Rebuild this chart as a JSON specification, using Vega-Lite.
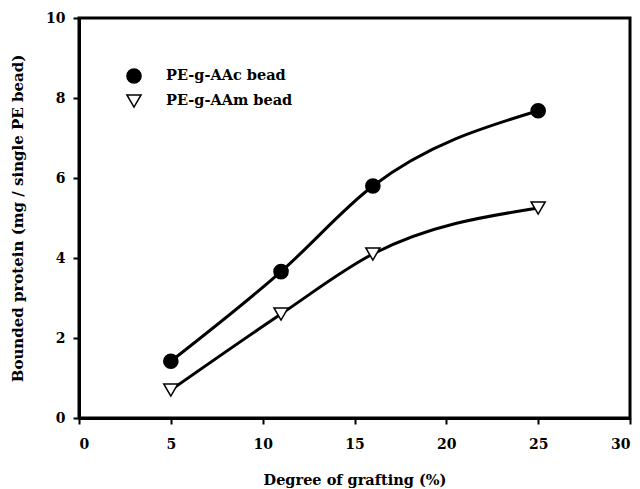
{
  "$schema": "https://vega.github.io/schema/vega-lite/v6.json",
  "width": 551,
  "height": 400,
  "autosize": "none",
  "padding": {"left": 79, "top": 18, "right": 10, "bottom": 71},
  "background": "white",
  "config": {
    "font": "DejaVu Serif",
    "view": {"stroke": "black", "strokeWidth": 3},
    "axis": {
      "labelFont": "DejaVu Serif", "labelFontWeight": "bold", "labelFontSize": 14, "labelColor": "black",
      "titleFont": "DejaVu Serif", "titleFontWeight": "bold", "titleFontSize": 14.5, "titleColor": "black",
      "domainColor": "black", "domainWidth": 3, "tickColor": "black", "tickWidth": 2, "tickSize": 6,
      "grid": false
    }
  },
  "data": {"values": [
    {"x": 5, "y": 1.42, "s": "PE-g-AAc bead"},
    {"x": 11, "y": 3.66, "s": "PE-g-AAc bead"},
    {"x": 16, "y": 5.8, "s": "PE-g-AAc bead"},
    {"x": 25, "y": 7.68, "s": "PE-g-AAc bead"},
    {"x": 5, "y": 0.7, "s": "PE-g-AAm bead"},
    {"x": 11, "y": 2.6, "s": "PE-g-AAm bead"},
    {"x": 16, "y": 4.1, "s": "PE-g-AAm bead"},
    {"x": 25, "y": 5.25, "s": "PE-g-AAm bead"}
  ]},
  "encoding": {
    "x": {"field": "x", "type": "quantitative", "scale": {"domain": [0, 30], "nice": false},
          "axis": {"values": [0, 5, 10, 15, 20, 25, 30], "title": "Degree of grafting (%)", "labelPadding": 13, "titlePadding": 22}},
    "y": {"field": "y", "type": "quantitative", "scale": {"domain": [0, 10], "nice": false},
          "axis": {"values": [0, 2, 4, 6, 8, 10], "title": "Bounded protein (mg / single PE bead)", "titleFontSize": 15, "labelPadding": 8, "titlePadding": 20}}
  },
  "layer": [
    {"mark": {"type": "line", "interpolate": "monotone", "color": "black", "strokeWidth": 3},
     "encoding": {"detail": {"field": "s"}}},
    {"mark": {"type": "point", "stroke": "black", "strokeWidth": 1.5, "opacity": 1, "size": 200},
     "encoding": {
       "shape": {"field": "s", "type": "nominal", "scale": {"domain": ["PE-g-AAc bead", "PE-g-AAm bead"], "range": ["circle", "triangle-down"]},
                 "legend": {"title": null, "orient": "none", "legendX": 47, "legendY": 50, "labelFont": "DejaVu Serif", "labelFontWeight": "bold", "labelFontSize": 14.5, "labelColor": "black", "symbolSize": 200, "labelOffset": 24, "rowPadding": 4, "symbolOpacity": 1,
                            "encode": {"symbols": {"update": {"stroke": {"value": "black"}, "strokeWidth": {"value": 1.5}}}}}},
       "fill": {"field": "s", "type": "nominal", "scale": {"domain": ["PE-g-AAc bead", "PE-g-AAm bead"], "range": ["black", "white"]},
                "legend": {"title": null, "orient": "none", "legendX": 47, "legendY": 50, "labelFont": "DejaVu Serif", "labelFontWeight": "bold", "labelFontSize": 14.5, "labelColor": "black", "symbolSize": 200, "labelOffset": 24, "rowPadding": 4, "symbolOpacity": 1,
                           "encode": {"symbols": {"update": {"stroke": {"value": "black"}, "strokeWidth": {"value": 1.5}}}}}}
     }}
  ]
}
